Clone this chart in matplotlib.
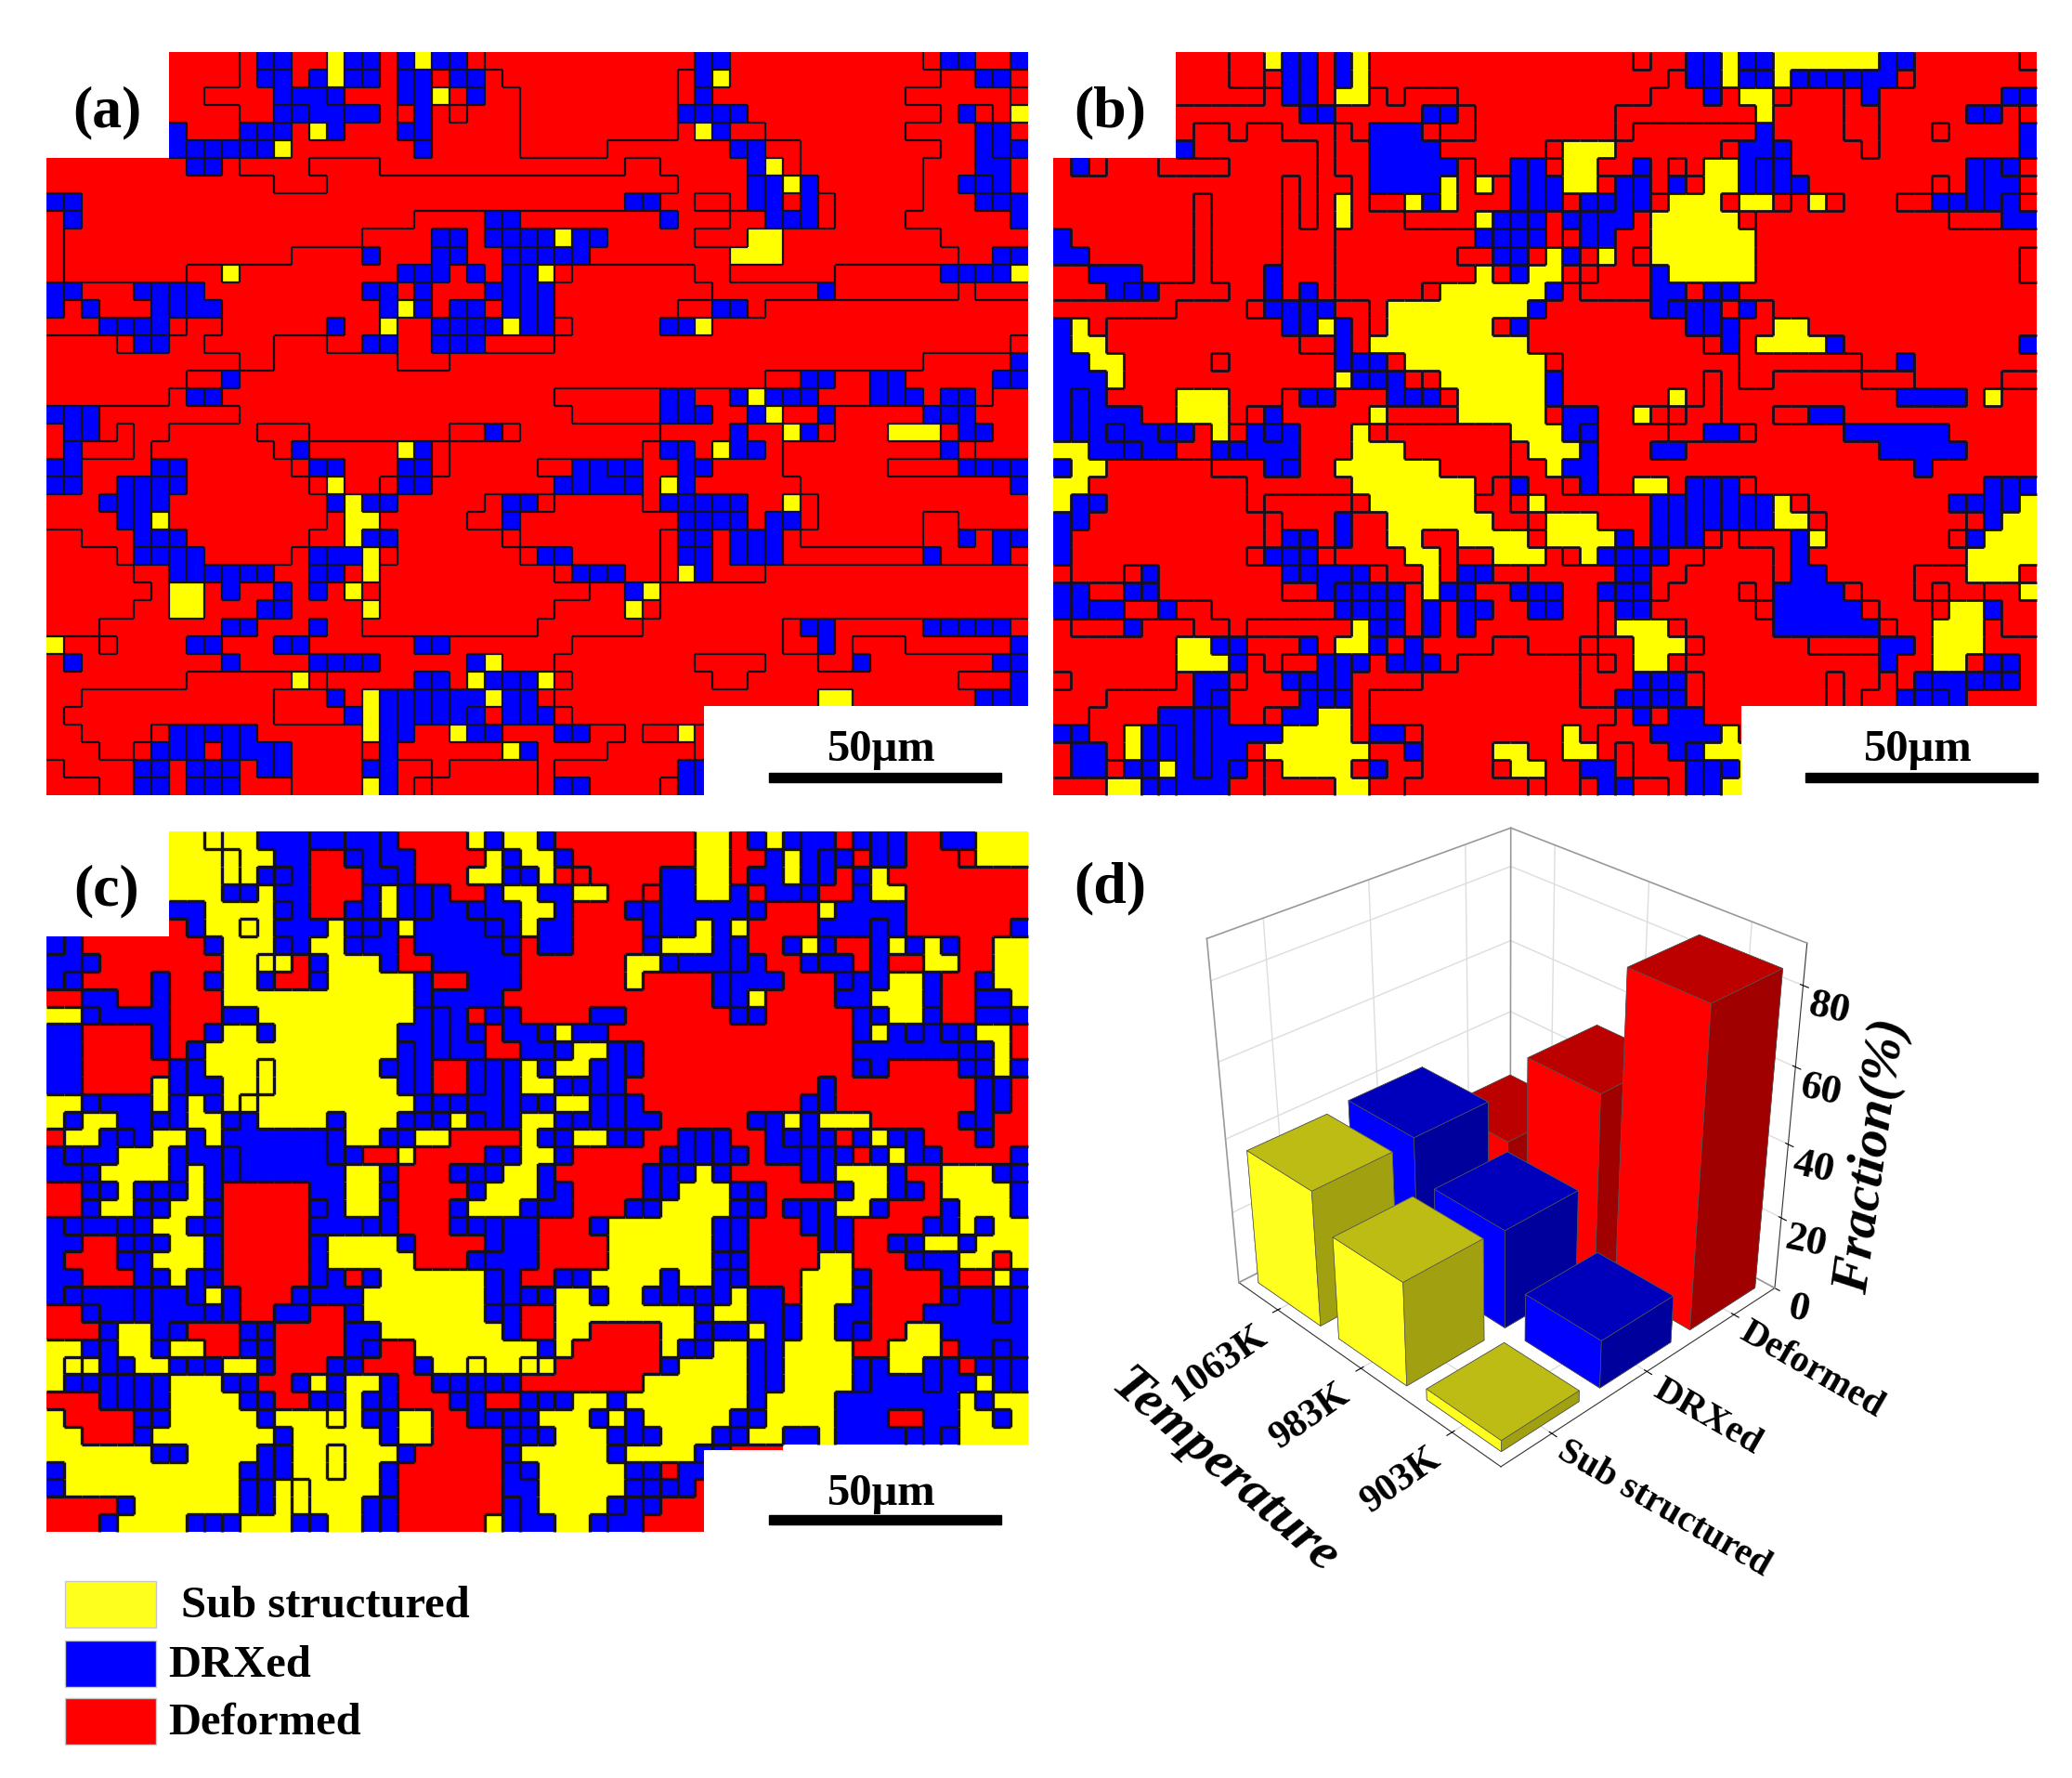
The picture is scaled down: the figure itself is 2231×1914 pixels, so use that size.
import numpy as np
import matplotlib
matplotlib.use("Agg")
import matplotlib.pyplot as plt
from matplotlib.collections import LineCollection
from matplotlib.patches import Rectangle

W, H = 2231, 1915
SERIF = "Liberation Serif"

# grain maps, one letter per cell
# R/r red, B/b blue, Y/y yellow (case change = another grain), . = empty
MAP_A = [
    ".......RRRRrbBrrYbBrbYBbrRRRRRRRRRRRRbBRRRRRRRRRRRrBbRRbB",
    ".......RRRRrBbrbYBbrBbrBbrRRRRRRRRRRrbYRRRRRRRRRRRRrrBbrRB",
    ".......RRrrrrbBBbrrrBbYrBrrRRRRRRRRRrBRRRRRRRRRRRrrrrrrRRR",
    ".......RRRRrrBbBBbbrRbrRrrrRRRRRRRRRBbBbRRRRRRRRRRRrbRrYbY",
    ".......BRRRbBbrYBrrrBbrrrrrRRRRRRRRRrYbrrRRRRRRRRrrrrBbRBrY",
    ".......BbBbBbYrrrrrrrBrrrrrRRRRRrrrrrrrBbrrRRRRRRRRrrBbBrRR",
    "RRRRRRRRBbRrrrrRRRRrrrrrrrrrrrrrrRRrrrrrbYrRRRRRRRrrrBBrRRR",
    "RRRRRRRRRRRRRrrrRRRRRRRRRRRRRRRRRRRRrrrrBbYbRRRRRRrrBbBrRRR",
    "BbRRRRRRRRRRRRRRRRRRRRRRRRRRRRRRRbBrrRRrBbrbrRRRRRrrrBbBbRR",
    "rBRRRRRRRRRRRRRRRRRRRrrrrBbrrrrrrrrbrrrRRbBbrRRRRrrrrrrBbBR",
    "rRRRRRRRRRRRRRRRRRrrrrbBrbBbBYbBrrrrrRRRYYRRRRRRRRRrrrrrBbR",
    "rRRRRRRRRRRRRRrrrrbrrrBbrrbBbBbrrrrrrrrYYYRRRRRRRRRRrrBbBbB",
    "rRRRRRRRrrYrrrrrrrrrBbBrBrBbYrRRRRRRRrrRRRRRRrrrrrrBbBbYbBB",
    "BbrrrBbBbrrrrrrrrrBbrBrrrbBbBRRRRRRRRRrrrrrrBrrrrrrrRrrrrrB",
    "BrBrrrbBbbrrrrrrrrrbYbrBbrBbBRRRRRRRrrbBrRRRRRRRRRRRRRRRRRR",
    "rrrBbBbrRRrrrrrrBrrYrrBbBbYbBrRRRRRbBYRRRRRRRRRRRRRRRRRRRRR",
    "RRRRrbBRRrrrrRRRrrBbrrbBbrrrrRRRRRRRRRRRRRRRRRRRRRRRRRRrrbY",
    "RRRRRRRRRRRrrRRRRRRRrrrRRRRRRRRRRRRRRRRRRRRRRRRRRRrrrrrBbrY",
    "RRRRRRRRrrBRRRRRRRRRRRRRRRRRRRRRRRRRRRRRRrrBbrrBbrrrrrBbrBYb",
    "RRRRRRRrBbRRRRRRRRRRRRRRRRRRRrrrrrrBbrrbYbBbrrrBbBrBbrRRRRR",
    "bBbrrrrrrrrRRRRRRRRRRRRRRRRRRRrrrrrBbBrrbYrrBRRRRRBbBRRRRRR",
    "rBbrRrrRRRRRrrrRRRRRRRRrrbrRRRRRRRRrrrrBrrYbrRRRYYYRBbRRRRR",
    "rbRRRrRRRRRRRrbrrrrrYbrRRRRRRRRRRRrbBrYBbrRRRRRRRRRbrRRRRRR",
    "BbrrrrbBRRRRRRrbBrrrbBrRRRRRrrBbBbrrBbrrrrRRRRRRrrrrBbBbrrB",
    "bBrrBbBbRRRRRRRrYrrRBbRRRRRRRbBbbBrYBrrrrrrRRRRRRRRRRRRBbBB",
    "rrrbBbBRRRRRRRRRbYBbRRRRRrBbrRRRRRrBbBbBrrYrRRRRRRRRRRRRRBB",
    "rrrrBbYRRRRRRRRRrYYRRRRRrrbRRRRRRRRRBbBbrBbrRRRRRRrrRRRRRrB",
    "RRrrrbBbRRRRRRRrrYBbRRRRRRrRRRRRRRRrbBrBbBrRRRRRRRrrbrbBrBb",
    "RRRRrBbBbRRRRRrBbbYrRRRRRRRrbBRRRRRrBbrBbBrrrrrrrrBrrrbrrBb",
    "RRRRRrrBbBbBbrrbBrYRRRRRRRRRRrbBbRRrYbrrrRRRRRRRRRRRRRRRRbB",
    "RRRRRRrYYrbrrbrBrYrRRRRRRRRRRRRrrbYRRRRRRRRRRRRRRRRRRRRRRRb",
    "RRRRRrrYYrrrbBrrrrYRRRRRRRRRRrrrrYrRRRRRRRRRRRRRRRRRRRRRRrb",
    "RRRrrrrrrrBbrrrBrrRRRRRRRRRRrrrrrrRRRRRRRRrBbrrrrrBbBbBrrrB",
    "YrrRrrrrBbrrrBbrrrrrrBbrrrrrrrRRRRRRRRRRRRrrbrRRRrrrrrrBbYb",
    "rBrrrrrrrrBrrrrBbBbrrrrrbYrrrRRRRRRRRrrrrRRRrrBRRRRRRRBbBbB",
    "rrrrrrrrRRRRRRYRrrrrrBbrYBbBYrRRRRRRRRrrRRRRRRRRRRRRrrrBbBr",
    "rrRRRRRRRRRRRrrrBrYbBbBbbYBbrRRRRRRRRRRRRRRRYYRRRRRRRBbBrRR",
    "rRRRRRRRRRRRRrrrrbYbBbBbBrBbBrRRRRRRRR..................",
    "rrRRRRrbBbBbRRRRRRYbBrrYbBrrrBbrrRrrYr..................",
    "rrrRRrBbBrBbbBRRRRrbrrrrrrYbrrrrRRRRRr..................",
    "RrrrrBbrbBbrbBRRRRBbRRrRRRRRrRRRRRRRBb..................",
    "RRRrrbBrBbBrrrRRRRYbRrRRRRRRrBbRRRRrBb..................",
]

MAP_B = [
    ".......RRRrrYBbrBYRRRRRRRRRRRRRRRrRRBbYbBYYYYYYBbRRRRRRrBrR",
    ".......RRRrrRBbrBYRRRRRRRRRRRRRRRRRrBbYBbYBbBbBBrRRRRRRRRrB",
    ".......RRRRRrBbrYYrRrrrRRRRRRRRRRRrrrBrYYrRRRrBRRRRRRRBbrRR",
    ".......rrrrrrrBbrrrrrBbrRRRRRRRRrrrrrrrrYRRRRrrRRRRRBbRrBbR",
    ".......rRRrRRrrrRrBBBRrrRRRRRRRRrRRRRRRRBRRRRrrRRRrRRRRBbRB",
    ".......BRRRRRRRrRRBBBBRRRRRRrYYYRRRRRRrBBbRRRRrRRRRRRRRBrRR",
    "RBrRRRrrrrRRRRRrRRBBBBBrRRBbRYYRRBRrRYYBbBRRRRRRRRRRBbBrRRR",
    "RRRRRRRRRRRRRrRrrRBBBBYrYrBbBYYrBbRBrYYBbBbRRRRRRRrRBbbRRrB",
    "RRRRRRRRrRRRRrRrYRrrYbYrrrBbBrBbBbrYYYrYYrRYrRRRrrBbBbBrRRB",
    "RRRRRRRRrRRRRrRrYRRRrrrrYBbBrBbBBrYYYYYrRRRRRRRRRRRrrrBBBBr",
    "BRRRRRRRrRRRRrrrRRRRRRRRBbBbrRbBrrYYYYYYRRRRRRRRRRRRRRRRRRr",
    "BBRRRRRRrRRRRrrrRRRRRRRrrBbrYBrYrRYYYYYYRRRRRRRRRRRRRRRrBrR",
    "RRBBBRRRrRRRBrrrRRRRRRRRYrBYYrRrrrBYYYYYRRRRRRRRRRRRRRRrBRB",
    "RRRBbBrrrrRRBrBrRRRRRrYYYYYYbRrrrrBBrBbRRRRRRRRRRRRRRRRRRRR",
    "rrrrrrrRRRRrbBbBrrRYYYYYYYYbRRRRRRBbBbrBrRRRRRRRRRRRRRRRRRR",
    "BYrRRRRRRRRRRBbYBrRYYYYYYrbRRRRRRRRRBbBrrYYRRRRRRRRRRRRRRRR",
    "BYYRRRRRRRRRRRrrBrYYYYYYYYYRRRRRRRRRRrBrYYYYBRRRRRRRRRRBRBr",
    "BBYYRRRRRrRRRRRRBbBrYYYYYYYYrRRRRRRRRRRrrrrrrrRRBRRRRRRRBBR",
    "BBBYRRRRRRRRRRRRYBbBrRYYYYYYBRRRRRRRRrRrrRRRRRrrrRRRRRrrRRR",
    "BbBRRRRYYYRRRrBbrrrBbBRYYYYYBRRRRRRYRrRRRRRRRRRRBBBBRYRRRRR",
    "BbBBBRRYYYRrBrrrrrYrrrrYYYYYrBBRRYrRrrRRRrrBBRRRRRRRRRRRRRr",
    "BbBbBBbBrYrBbBrrrYrRRRRRRRYYYBbRRRRrrBBrRRRRRBBBBBBRRRRRRrB",
    "YYBBbBBrrBbBBBrrrYYYRRRRRRrYYYBRRRBBRRRRRRRRRRRBBBBBRRRRRrB",
    "BYYRRRRRRrrrBbrrYYYYYYRRRRrrYBBRRRRRRRRRRRRRRRRRRBRRRRRRBbB",
    "YYRRRRRRRRRrrrrrrYYYYYYYRrBrrRBRRYYRBbBrRRRRRRRRRRRRRBbBbBB",
    "YbBRRRRRRRRrRRRRRrYYYYYYrrRYrrrrrrBbBbBbBYrRRRRRRRRBbBbYYYY",
    "BbRRRRRRRRRRrRRRBRRYYYYYYrrRYYYrrrBbBbBbBYYrRRRRRRRRrBYYYYYY",
    "BRRRRRRRRRRRrBbRBRRYYrrYYYYrYYYYBrBbBrRrrrBYRRRRRRRrBYYYYYYY",
    "BRRRRRRRRRRrBbBrRRRRYYrRRYYYrRYBbBbrrRRRRrBRRRRRRRRRYYYYYYYY",
    "rRRRrBRRRRRRRBbBBbrRRYrBbRRrrrrrBbrrRRRRRrBBRRRRRrrrYYYrYYYY",
    "BbrrBbRRRRRRRrrBbBbBrYBbrrBbBrrBbBrRRRRrRBBBBrRRRrRrrRRYYYYY",
    "BbBBrrBrrRRRRRRRBbBbrBrBbrrBbrrRBbRRRRRRrBBBBBrRRRrYYbRRRYYY",
    "RrrrBRRRrrRrrrrrrYbBrBrBrrrrrrrRYYYrRRRRRBBBBBBrRRYYYrRRRRrY",
    "RRRRRRRYYBbRRRBrYYBrBrrrrRRrrrRrrYYYrRRRRRRrrrrBBRYYYrrrRRRR",
    "RRRRRRRYYYBrRrrBbBrbBbrRRRRRRRrRrYYrRRRRRRRRRRRBRRYYrBbrRRRR",
    "rRRRRRRrBBRrrBbBbrrrrRRRRRRRRRrrrBbBrRRRRRRRrRRrRBbbBbBrRRrr",
    "RRRrrrrrBbrrrrBbBrRRRRRRRRRRRRrrBbBbrRRRRRRRrRrrBbBbrrrrrRRr",
    "RRrrrrBBbBrrRBBYYrRRRRRRRRRRRRRRrBrBBRRRRRRR...................",
    "BbrrYBbBbBBBBYYYYrBBrRRRRRRRRYRrrrBBBBYRRRRR...................",
    "RBBrYBbBbBBrYYYYYYrrBRRRRYYRRYYrRrrBbYYYYYY...................",
    "RBBRBbYBbBbRrYYYYrBrrRRRRrYYRRBBRrrrBbBYYYY...................",
    "rrrYYBbBBBRRrrrrYYrrRRRRRRRrRRrBbRRrBbYYYY....................",
]

MAP_C = [
    ".......YYyYYBBBbbBBbRRRRYbYYbRRRRRRRRYYRBYbBBRbBbRRbbYYY",
    ".......YYYyYYBBRRbBbbRRRRYbYYbRRRRRRRYYRRBYBbBRBbRRRrYYY",
    ".......YYYyYBbBRRRBBbRRRYYBbYRrRRRRBBYYRBBYBbRbYRRRRRRRR",
    ".......YYYBbYBBRRRbYBbBRRBYYBBYYRRrBBYYBRBBbRRBYYRRRRRRRR",
    ".......BBYYYYbBRRBbYBbBBbBBYYBRRRBbBBBBBbRRRYBBBBRRRRRRRR",
    ".......RBYYyYBBBYbBbYBBBBbBYBBRRRRbBBYBYRRRRBBBbBRRRRRRbY",
    "bBRRRRRRRbYYYbBYYBbbRBBBBBbRBBRRRRBYYYBbRRbYbRRbYbYBRRYY",
    "BBbRRRRRRRYYyYRBYYYbRRBBBBBRRRRRRYYbBBBbBRRbBBRbRRYYRRYY",
    "BbRRRRBRRbYYbRRbYYYYYbRRBBBRRRRRRYRRRRbBBBRRRbBbYYBRRbYY",
    "RRBBRRBRRRYYYYYYYYYYYbBBBBRRRRRRRRRRRRbBYRRRRBBYYYBRRBBY",
    "YYbBBBBRRRBBYYYYYYYYYBbBRbBRRRRbbRRRRRRbBRRRRRbBYYbRRbbB",
    "BBRRRRBRRbYYBYYYYYYYBBbBbRBBbYBBRRRRRRRRRRRRRRbYBbBbBYYR",
    "BBRRRRBRbYYYYYYYYYYYbBbBBRRBBbYYbBRRRRRRRRRRRRBBBBBBbBYR",
    "BBRRRRRbBYYYyYYYYYYBbBRRbBbYbYYBbBRRRRRRRRRRRRbBRRRRBbYb",
    "BBRRRRYbBBYYyYYYYYYYbBRRbBbYYBbBbRRRRRRRRRRRBRRRRRRRRBbR",
    "YYbBBBYBYbYyYYYYYYYYYbBbBBbBbYYbBbRRRRRRRRRbBRRRRRRRRBbR",
    "YbYYBBbBYYbBYYYYBYYYbBbYbBbYYbBbBbbRRRRRbBYBYYYRRRRRbBRR",
    "RYYBbBYYBYBBBBBBbYYbBYYRRRRYbBYYbBRRBbBRRBbBbRBYbBRRRbRR",
    "BbBBYYYbBBbBBBBBbBRRYRRRRbBYYbRRRRRbBbBbRBBbBbRbYBbRRRRb",
    "BBbYYYYbYBbBBBBBBYYBRRRBbBYYbRRRRRbBbYbRRRRbBYYYbRRYYYbB",
    "RRBbYBbBYBRRRRRBBYYbRRRRBYYYbBRRRRbBYYYbBRRRRBYYbBRYYYYb",
    "RRbYYbBYYbRRRRRbBYYBRRRBYYYbBBRRRbBYYYYBbRBbBYYbRRRbYYYb",
    "BbBBbBYYbBRRRRRBBBbBRRRbBbBBRRRbYYYYYYBbRRRbBbRRRRBbYbYY",
    "BBRRBbBYYbRRRRRbYYYYbRRRRbBBRRRRYYYYYYBbRRRRBbRRbBYYbYYY",
    "BRRRbBYYYbRRRRRbYYYYYRRRbBBBRRRRYYYYYYbBRRRRYYRRRbBBYYRY",
    "BBRRRBbYbBRRRRRbBRbYYYYYYbBRRbBYYYYbYYBbRRRYYYbRRRRBRRYb",
    "BbBBBbBBbYBRRRbBBBYYYYYYYbBbBYYbYYBbBbBYBBRYYYBRRRRbBBbB",
    "RRbBBbBBBbBRRBBRRbYYYYYYYBbRRYYYYYYYYBYYBBbYYBBRRRBBBBbB",
    "RRRbYYBbRRRBbRRRRBBYYYYYYYbRRYYRRRRYYbBBYBbYYBbRRYYBBBBB",
    "YYbBYYbYYRRbBRRRRBbRRYYYYYYYBYRRRRRYbBYYbBYYYYRRYYYRBBbBB",
    "YyYBbYYbBbYYbRRRBbRRRbYYyYYyYRRRRRRbYYYYbBYYYYbBYYbBRbBbB",
    "YbBbBbBYYYbBRRbYbYYBRRBbBbBRRRRRRRYYYYYYbBYYYYbBBBbBBYBbY",
    "RRRbBbBYYYYbBRRbBYbBRRRBbRRbBbYYbYYYYYYYbYYYYBBBBBBBYbYYY",
    "YRRRRBbYYYYYbYYYyYBbYYRRbBbBYYYbYbYYYYYbBYYYYBBBRRBBYYbYY",
    "YYRRRbYYYYYYYbYYYYYbYYRRRRBbBYYYBbBYYYbBYYBBYBBBBbBbYYYYY",
    "YYYYYYbBYYYYbBYYyYYYbRRRRRbYYYYYbYYYYbBRRR.................",
    "bYYYYYYYYYYBbBYYyYYbRRRRRRBbYYYYYBbRBBYYBR.................",
    "BYYYYYYYYYYbBYyYYYYbRRRRRRBBYYYYYbBbBRRRYY.................",
    "RRRRbYYYYYYbBYyYYYbBRRRRRRbBYYYYbBbRRRRRYY.................",
    "RRRbYYYYBbBYYYbBYYbBRRRRRYbBBYYbBBRRRRRBYY.................",
]

# fractions for the bars, %
temperatures = ["903K", "983K", "1063K"]
phases = ["Sub structured", "DRXed", "Deformed"]
sub_structured = [3, 28, 37]
drxed = [13, 27, 38]
deformed = [84, 50, 24]
ztick_values = [0, 20, 40, 60, 80]

legend_names = ["Sub structured", "DRXed", "Deformed"]

FILL = {"R": (1, 0, 0), "B": (0, 0, 1), "Y": (1, 1, 0), ".": (1, 1, 1)}
FACES = {
    "Sub structured": ("#ffff1e", "#bcbc14", "#a0a010"),
    "DRXed": ("#0000ff", "#0000bc", "#00009c"),
    "Deformed": ("#ff0000", "#bc0000", "#a00000"),
}


def draw_map(ax, rows, x0, x1, y0, y1, ncols=56, lw=2.0):
    rows = [r[:ncols].ljust(ncols, r[-1]) for r in rows]
    grid = np.array([list(r) for r in rows])
    img = np.zeros(grid.shape + (3,))
    for ch in "RBY.":
        img[np.char.upper(grid) == ch] = FILL[ch]
    ax.imshow(img, extent=(x0, x1, y1, y0), interpolation="nearest", aspect="auto", zorder=1)

    # black boundaries wherever neighbouring cells differ
    nr, nc = grid.shape
    dx, dy = (x1 - x0) / nc, (y1 - y0) / nr
    segs = []
    for i in range(nr):
        for j in range(nc):
            if grid[i, j] == ".":
                continue
            if j + 1 < nc and grid[i, j + 1] not in (grid[i, j], "."):
                xx = x0 + (j + 1) * dx
                segs.append([(xx, y0 + i * dy), (xx, y0 + (i + 1) * dy)])
            if i + 1 < nr and grid[i + 1, j] not in (grid[i, j], "."):
                yy = y0 + (i + 1) * dy
                segs.append([(x0 + j * dx, yy), (x0 + (j + 1) * dx, yy)])
    ax.add_collection(LineCollection(segs, colors="#15101e", linewidths=lw, zorder=2))


def cut_corner(ax, x0, y0, x1, y1):
    ax.add_patch(Rectangle((x0, y0), x1 - x0, y1 - y0, facecolor="white", edgecolor="none", zorder=2.5))


def scale_bar(ax, x0, x1, y, ytext):
    ax.add_patch(Rectangle((x0, y), x1 - x0, 10, color="black", zorder=3))
    ax.text((x0 + x1) / 2 - 4, ytext, "50μm", family=SERIF, weight="bold", fontsize=35,
            ha="center", va="center", zorder=4)


fig = plt.figure(figsize=(W / 100, H / 100), dpi=100)
page = fig.add_axes([0, 0, 1, 1])
page.axis("off")

draw_map(page, MAP_A, 50, 1107, 57, 857, lw=1.6)
draw_map(page, MAP_B, 1134, 2193, 57, 857)
draw_map(page, MAP_C, 50, 1107, 896, 1650, lw=2.4)
page.set_xlim(0, W)
page.set_ylim(H, 0)

# white corners where labels and scale bars sit
cut_corner(page, 49, 56, 181, 169)
cut_corner(page, 758, 761, 1108, 858)
cut_corner(page, 1133, 56, 1259, 169)
cut_corner(page, 1875, 761, 2194, 858)
cut_corner(page, 49, 895, 181, 1007)
cut_corner(page, 758, 1562, 1108, 1651)

scale_bar(page, 828, 1078, 833, 807)
scale_bar(page, 1944, 2194, 833, 807)
scale_bar(page, 828, 1078, 1632, 1608)

for label, x, y in [("(a)", 115, 121), ("(b)", 1195, 121), ("(c)", 115, 959), ("(d)", 1195, 956)]:
    page.text(x, y, label, family=SERIF, weight="bold", fontsize=46, ha="center", va="center", zorder=5)

# legend
for name, color, y, xt in zip(legend_names, ["#ffff1e", "#0000ff", "#ff0000"], [1703, 1767, 1829], [195, 181, 181]):
    page.add_patch(Rectangle((70, y), 98, 50, facecolor=color, edgecolor="#c8c8c8", linewidth=1))
    page.text(xt, y + 26, name, family=SERIF, weight="bold", fontsize=35, ha="left", va="center")

# panel d
ax = fig.add_axes([1200 / W, 1 - 1582 / H, 824 / W, 725 / H], projection="3d", computed_zorder=False)
ax.patch.set_alpha(0)
ax.view_init(elev=31, azim=-134)
ax.set_proj_type("persp", focal_length=0.5)
ax.set_box_aspect((1, 1, 1.0))
ax.set_xlim(0, 3)
ax.set_ylim(0, 3)
ax.set_zlim(0, 90)

# wall outline
for xs, ys, zs in [([0, 0], [3, 3], [0, 90]), ([3, 3], [3, 3], [0, 90]), ([0, 3], [3, 3], [90, 90]),
                   ([3, 3], [3, 0], [90, 90]), ([0, 3], [3, 3], [0, 0]), ([3, 3], [0, 3], [0, 0])]:
    ax.plot(xs, ys, zs, color="#999999", linewidth=1.2, zorder=1)

values = {"Sub structured": sub_structured, "DRXed": drxed, "Deformed": deformed}
bar_w = 0.78
order = []
for i, phase in enumerate(phases):
    for j in range(len(temperatures)):
        order.append((i + j, i, j, phase))
# back to front, far corner first
for _, i, j, phase in sorted(order, key=lambda t: -t[0]):
    front, top, side = FACES[phase]
    # bottom, top, -y, +y, -x, +x
    ax.bar3d(i + 0.11, j + 0.11, 0, bar_w, bar_w, values[phase][j],
             color=[top, top, side, side, front, front], shade=False,
             edgecolor="#555555", linewidth=0.5, zorder=10 + (6 - (i + j)))

ax.xaxis.set_pane_color((1, 1, 1, 0))
ax.yaxis.set_pane_color((1, 1, 1, 0))
ax.zaxis.set_pane_color((1, 1, 1, 0))
for axis in (ax.xaxis, ax.yaxis, ax.zaxis):
    axis._axinfo["grid"]["color"] = "#dddddd"
    axis._axinfo["grid"]["linewidth"] = 1.0
    axis.line.set_color("#333333")
    axis.pane.set_edgecolor("#999999")
ax.set_xticks([0.5, 1.5, 2.5], phases, family=SERIF, weight="bold", fontsize=29, rotation=-30, ha="left")
ax.set_yticks([0.5, 1.5, 2.5], temperatures, family=SERIF, weight="bold", fontsize=30, rotation=35, ha="right")
ax.set_zticks(ztick_values, [str(v) for v in ztick_values], family=SERIF, weight="bold", fontsize=32, rotation=-12)
ax.zaxis.set_ticks_position("lower")
ax.tick_params(axis="x", pad=-8)
ax.tick_params(axis="y", pad=-4)
ax.tick_params(axis="z", pad=4)

page.text(1318, 1585, "Temperature", family=SERIF, weight="bold", style="italic", fontsize=42, rotation=-41,
          ha="center", va="center", zorder=6)
page.text(2016, 1245, "Fraction(%)", family=SERIF, weight="bold", style="italic", fontsize=42, rotation=82,
          ha="center", va="center", zorder=6)

fig.savefig("out.png", dpi=100)
